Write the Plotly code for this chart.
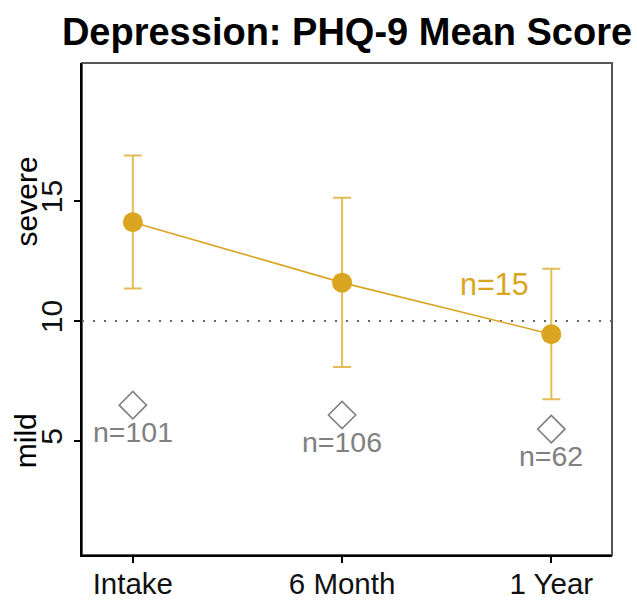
import plotly.graph_objects as go

categories = ["Intake", "6 Month", "1 Year"]
x_pos = [1, 2, 3]
sub_mean = [14.12, 11.6, 9.45]
sub_upper = [16.9, 15.14, 12.18]
sub_lower = [11.36, 8.08, 6.74]
sub_n_label = "n=15"
sub_n_pos = [2.73, 11.53]
all_mean = [6.49, 6.08, 5.49]
all_n = [101, 106, 62]
y_ticks = [5, 10, 15]
y_tick_text = ["5", "10", "15"]
severity_labels = [("severe", 15), ("mild", 5)]
threshold = 10

GOLD = "#DAA520"
GOLD_LIGHT = "rgba(218,165,32,0.75)"
GRAY = "#808080"
FONT = "Liberation Sans, Arial, sans-serif"

fig = go.Figure()

fig.add_trace(go.Scatter(
    x=x_pos, y=sub_mean, mode="markers",
    marker=dict(color=GOLD, size=20),
    error_y=dict(type="data", symmetric=False,
                 array=[u - m for u, m in zip(sub_upper, sub_mean)],
                 arrayminus=[m - l for m, l in zip(sub_mean, sub_lower)],
                 color=GOLD_LIGHT, thickness=2, width=9),
    showlegend=False, hoverinfo="skip"))

fig.add_trace(go.Scatter(
    x=x_pos, y=sub_mean, mode="lines",
    line=dict(color=GOLD, width=1.6),
    showlegend=False, hoverinfo="skip"))

fig.add_trace(go.Scatter(
    x=x_pos, y=all_mean, mode="markers",
    marker=dict(symbol="diamond-open", size=21, color=GRAY, line=dict(color=GRAY, width=1.6)),
    showlegend=False, hoverinfo="skip"))

annotations = []
for xp, ym, n in zip(x_pos, all_mean, all_n):
    annotations.append(dict(x=xp, y=ym, xref="x", yref="y", text=f"n={n}",
                            showarrow=False, yshift=-27, font=dict(family=FONT, size=28.5, color=GRAY)))
annotations.append(dict(x=sub_n_pos[0], y=sub_n_pos[1], xref="x", yref="y", text=sub_n_label,
                        showarrow=False, font=dict(family=FONT, size=30.5, color=GOLD)))
for lab, yv in severity_labels:
    annotations.append(dict(x=-0.105, y=yv, xref="paper", yref="y", text=lab, textangle=-90,
                            showarrow=False, xanchor="center", yanchor="middle",
                            font=dict(family=FONT, size=30, color="black")))

shapes = [
    dict(type="rect", xref="paper", yref="paper", x0=0, x1=1, y0=0, y1=1,
         line=dict(color="#555555", width=2), layer="below"),
    dict(type="line", xref="paper", yref="y", x0=0, x1=1, y0=threshold, y1=threshold,
         line=dict(color="#666666", width=2, dash="2px,9px"), layer="below"),
]

fig.update_layout(
    width=637, height=602,
    margin=dict(l=82, r=25, t=63, b=47),
    paper_bgcolor="white", plot_bgcolor="white",
    font=dict(family=FONT, size=30, color="black"),
    title=dict(text="<b>Depression: PHQ-9 Mean Score</b>", x=0.5, xref="paper",
               y=1 - 32 / 602, yref="container", xanchor="center", yanchor="middle",
               font=dict(family=FONT, size=38, color="black")),
    xaxis=dict(range=[0.757, 3.29], tickvals=x_pos, ticktext=categories, automargin=False,
               showgrid=False, zeroline=False, showline=True, linecolor="black", linewidth=2,
               ticks="outside", ticklen=6, tickwidth=1.5, tickcolor="black",
               ticklabelstandoff=-4,
               tickfont=dict(family=FONT, size=29.5, color="#111")),
    yaxis=dict(range=[0.24, 20.76], tickvals=y_ticks, ticktext=y_tick_text, tickangle=-90,
               automargin=False,
               showgrid=False, zeroline=False, showline=True, linecolor="black", linewidth=2,
               ticks="outside", ticklen=6, tickwidth=1.5, tickcolor="black",
               tickfont=dict(family=FONT, size=30, color="#111")),
    annotations=annotations, shapes=shapes,
)

fig.write_html("out.html")
